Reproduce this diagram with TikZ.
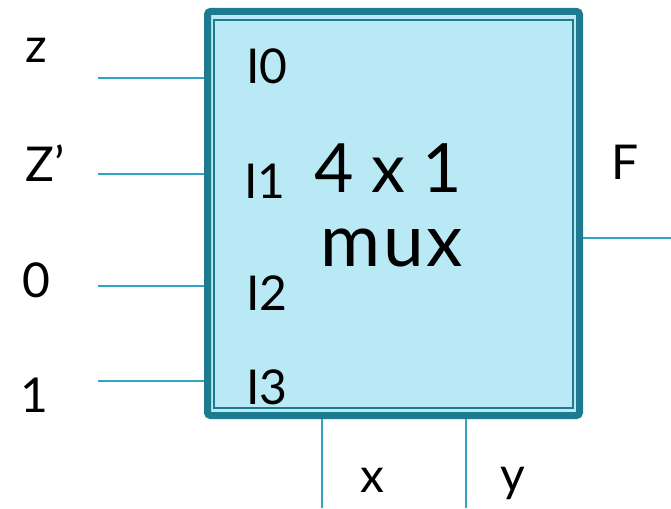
\documentclass[tikz,border=0pt]{standalone}
\usepackage{fontspec}
\setmainfont{Lato}
\newfontfamily\spaced[LetterSpace=3.5]{Lato}
\definecolor{boxdark}{HTML}{1E7A8E}
\definecolor{boxfill}{HTML}{B8E9F4}
\definecolor{wire}{HTML}{30A4C5}
\begin{document}
\begin{tikzpicture}[x=1pt,y=-1pt,
  lbl/.style={inner sep=0pt,font=\fontsize{48}{48}\selectfont},
  big/.style={inner sep=0pt,font=\fontsize{68}{68}\selectfont},
  bigmux/.style={inner sep=0pt,font=\spaced\fontsize{73}{73}\selectfont},
  wireline/.style={draw=wire,line width=2.4pt}]
\useasboundingbox (0,0) rectangle (671,508);
% box
\fill[boxfill] (207.5,11.5) rectangle (579.5,415.5);
\draw[boxdark,line width=7pt,rounded corners=3pt] (207.5,11.5) rectangle (579.5,415.5);
\draw[boxdark,line width=1.5pt] (213.8,19.8) rectangle (573.2,408.2);
\node[inner sep=0pt,minimum width=379pt,minimum height=411pt] (mux) at (393.5,413.5/2+6.5) {};
% anchors on box
\coordinate (pI0) at (204,78);
\coordinate (pI1) at (204,174);
\coordinate (pI2) at (204,286);
\coordinate (pI3) at (204,381);
\coordinate (pF) at (583,238);
\coordinate (px) at (322,419);
\coordinate (py) at (466,419);
% free ends
\coordinate (ez) at (98,78);
\coordinate (ezp) at (98,174);
\coordinate (e0) at (98,286);
\coordinate (e1) at (98,381);
\coordinate (eF) at (671,238);
\coordinate (ex) at (322,508);
\coordinate (ey) at (466,508);
\draw[wireline] (ez) -- (pI0);
\draw[wireline] (ezp) -- (pI1);
\draw[wireline] (e0) -- (pI2);
\draw[wireline] (e1) -- (pI3);
\draw[wireline] (pF) -- (eF);
\draw[wireline] (px) -- (ex);
\draw[wireline] (py) -- (ey);
% labels
\node[lbl] (tz) at (36,50) {z};
\node[lbl] (tzp) at (45,163) {Z’};
\node[lbl] (t0) at (36,280) {0};
\node[lbl] (t1) at (34,395) {1};
\node[lbl] (tI0) at (267,66) {I0};
\node[lbl] (tI1) at (265,181) {I1};
\node[lbl] (tI2) at (267,293) {I2};
\node[lbl] (tI3) at (267,387) {I3};
\node[big] (t4) at (388,168.5) {4 x 1};
\node[bigmux] (tmux) at (392,248.5) {mux};
\node[lbl] (tF) at (625,162) {F};
\node[lbl] (tx) at (372,480) {x};
\node[lbl] (ty) at (513,483) {y};
\end{tikzpicture}
\end{document}
